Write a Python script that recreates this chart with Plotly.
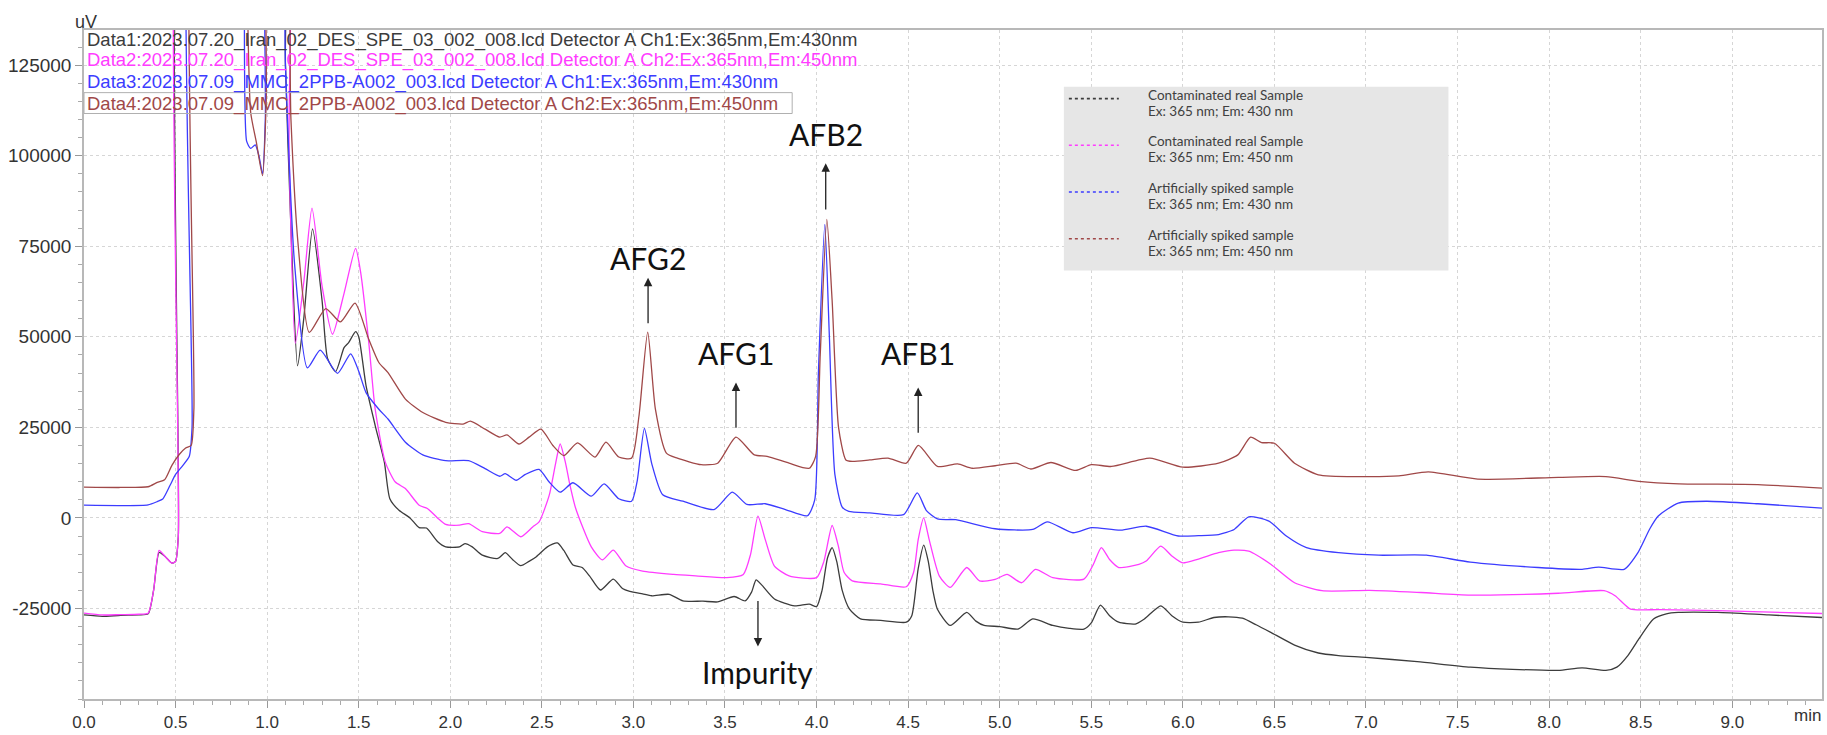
import plotly.graph_objects as go

OFF = 200000  # off-scale (detector saturated region, clipped by axis)

# ---------------- data ----------------
t_data1 = [0, 0.1, 0.2, 0.3, 0.35, 0.38, 0.41, 0.44, 0.48, 0.50, 0.515, 0.535, 0.6, 0.9, 1.07,
           1.10, 1.13, 1.166, 1.20, 1.248, 1.30, 1.33, 1.374, 1.42, 1.445, 1.483, 1.50, 1.54, 1.59,
           1.64, 1.67, 1.72, 1.78, 1.83, 1.87, 1.93, 1.975, 2.05, 2.08, 2.12, 2.175, 2.26, 2.30,
           2.34, 2.385, 2.43, 2.47, 2.53, 2.585, 2.62, 2.67, 2.72, 2.76, 2.82, 2.89, 2.94, 2.98,
           3.05, 3.10, 3.195, 3.27, 3.38, 3.46, 3.55, 3.61, 3.645, 3.67, 3.70, 3.77, 3.88, 3.96,
           4.0, 4.03, 4.06, 4.085, 4.11, 4.14, 4.18, 4.24, 4.35, 4.49, 4.52, 4.555, 4.585, 4.61,
           4.635, 4.66, 4.73, 4.82, 4.87, 4.915, 5.0, 5.10, 5.18, 5.29, 5.38, 5.46, 5.50, 5.55,
           5.60, 5.65, 5.74, 5.79, 5.88, 5.94, 6.0, 6.085, 6.17, 6.25, 6.325, 6.40, 6.48, 6.61,
           6.74, 6.85, 7.0, 7.28, 7.57, 7.8, 8.05, 8.18, 8.31, 8.37, 8.43, 8.49, 8.57, 8.64,
           8.705, 8.92, 9.2, 9.49]
v_data1 = [-26800, -27200, -26900, -26800, -26500, -20000, -9500, -10500, -12500, -12000, -5000, OFF, OFF, OFF, OFF,
           125000, 80000, 42000, 55000, 79800, 60000, 44000, 40400, 47000, 48400, 51400, 50000, 36500, 25500,
           15400, 5300, 2100, 0, -2700, -2800, -6500, -8000, -8000, -7100, -8000, -10300, -11200, -9600,
           -11500, -13200, -12000, -10700, -8000, -6900, -9000, -13000, -13700, -16000, -19900, -16900, -19500, -20300,
           -21000, -21500, -21100, -22900, -23000, -23200, -21700, -22900, -20500, -17100, -18500, -22400, -24300, -23800,
           -24500, -20000, -11000, -8200, -12000, -20000, -25200, -27900, -28300, -28800, -27000, -14000, -7500, -12000,
           -20000, -25200, -29700, -26100, -28500, -29700, -30000, -30700, -27900, -29700, -30500, -30700, -29000, -24100,
           -27000, -28800, -29300, -27900, -24300, -27000, -28800, -28800, -27500, -27300, -27700, -29500, -31600, -35100,
           -37300, -38000, -38500, -39700, -41200, -41800, -42100, -41400, -42100, -41200, -38000, -33400, -27900, -26500,
           -26100, -26100, -26800, -27500]

t_data2 = [0, 0.1, 0.2, 0.3, 0.35, 0.38, 0.41, 0.44, 0.48, 0.50, 0.515, 0.53, 0.6, 0.9, 1.08,
           1.12, 1.154, 1.20, 1.245, 1.30, 1.357, 1.42, 1.483, 1.51, 1.555, 1.59, 1.645, 1.70, 1.755,
           1.83, 1.875, 1.93, 1.975, 2.05, 2.10, 2.175, 2.27, 2.31, 2.385, 2.45, 2.485, 2.54, 2.575,
           2.60, 2.63, 2.65, 2.685, 2.77, 2.83, 2.89, 2.96, 3.05, 3.22, 3.34, 3.51, 3.60, 3.64,
           3.68, 3.72, 3.77, 3.85, 4.0, 4.04, 4.085, 4.12, 4.15, 4.195, 4.35, 4.49, 4.53, 4.555,
           4.585, 4.615, 4.67, 4.73, 4.82, 4.89, 4.975, 5.04, 5.12, 5.195, 5.29, 5.46, 5.51, 5.555,
           5.60, 5.65, 5.76, 5.80, 5.88, 5.94, 6.0, 6.195, 6.28, 6.36, 6.48, 6.61, 6.76, 7.02,
           7.3, 7.57, 8.05, 8.30, 8.36, 8.445, 8.6, 8.92, 9.49]
v_data2 = [-26300, -26800, -26700, -26600, -26300, -20000, -9000, -10500, -12500, -12000, -5000, OFF, OFF, OFF, OFF,
           100000, 48200, 65000, 85500, 64000, 50700, 62000, 74400, 68000, 48400, 30000, 15400, 9900, 8100,
           3500, 2600, 0, -1800, -2000, -1600, -3800, -4300, -2500, -5200, -2500, -1100, 6200, 15000,
           20400, 15000, 9900, 2600, -8000, -11600, -8900, -13300, -14700, -15600, -16000, -16500, -15600, -10000,
           500, -6000, -13300, -16000, -16500, -12000, -2100, -8000, -15000, -17400, -18200, -19000, -15000, -6000,
           0, -6000, -16000, -19200, -13700, -17400, -17000, -15600, -17900, -14200, -16500, -16900, -13000, -8200,
           -11500, -13700, -12800, -11900, -7800, -10500, -12400, -9600, -8900, -9200, -12800, -17900, -20100, -20000,
           -20600, -21300, -20800, -20100, -21500, -25200, -25300, -25600, -26400]

t_data3 = [0, 0.2, 0.35, 0.40, 0.43, 0.47, 0.50, 0.54, 0.575, 0.59, 0.60, 0.7, 0.86, 0.875,
           0.888, 0.91, 0.935, 0.955, 0.975, 0.99, 1.01, 1.06, 1.10, 1.15, 1.22, 1.29, 1.384, 1.456,
           1.50, 1.54, 1.61, 1.66, 1.755, 1.85, 1.975, 2.10, 2.19, 2.27, 2.30, 2.36, 2.41, 2.485,
           2.54, 2.60, 2.67, 2.77, 2.84, 2.92, 2.99, 3.02, 3.06, 3.10, 3.16, 3.27, 3.44, 3.54,
           3.62, 3.72, 3.83, 3.95, 3.99, 4.01, 4.045, 4.07, 4.10, 4.14, 4.176, 4.29, 4.475, 4.55,
           4.60, 4.66, 4.76, 4.975, 5.18, 5.26, 5.40, 5.5, 5.66, 5.80, 5.975, 6.085, 6.195, 6.28,
           6.36, 6.47, 6.565, 6.675, 6.85, 7.07, 7.33, 7.57, 7.94, 8.18, 8.27, 8.41, 8.485, 8.55,
           8.596, 8.705, 8.86, 9.14, 9.49]
v_data3 = [3500, 3400, 3600, 4500, 5200, 9000, 12000, 14500, 17000, 25000, OFF, OFF, OFF, 150000,
           104000, 102000, 103000, 100000, 95000, 110000, OFF, OFF, 125000, 70000, 41400, 46300, 39900, 45300,
           40500, 34600, 30000, 27300, 20900, 17400, 15800, 15800, 13600, 11500, 12200, 10400, 12000, 13400,
           9900, 7100, 9700, 6000, 9400, 5300, 4600, 10000, 24700, 15000, 6400, 4600, 2300, 7100,
           3700, 3900, 2300, 600, 5000, 40000, 81000, 50000, 12000, 3000, 1800, 1400, 900, 6900,
           2000, -300, -500, -3000, -3200, -1100, -4100, -2700, -3400, -2300, -5000, -4900, -4600, -3200,
           300, -900, -5000, -8200, -9600, -10300, -10300, -12200, -13700, -14200, -13600, -14200, -9600, -3000,
           500, 4100, 4600, 3900, 2700]

t_data4 = [0, 0.2, 0.35, 0.40, 0.44, 0.48, 0.52, 0.555, 0.585, 0.60, 0.614, 0.7, 0.88, 0.89,
           0.91, 0.94, 0.975, 0.995, 1.02, 1.08, 1.13, 1.17, 1.23, 1.32, 1.40, 1.48, 1.555, 1.61,
           1.66, 1.755, 1.85, 1.975, 2.07, 2.11, 2.19, 2.27, 2.31, 2.375, 2.43, 2.495, 2.56, 2.62,
           2.695, 2.79, 2.85, 2.92, 2.99, 3.03, 3.078, 3.12, 3.18, 3.24, 3.37, 3.46, 3.56, 3.66,
           3.73, 3.85, 3.96, 3.995, 4.02, 4.056, 4.085, 4.12, 4.16, 4.195, 4.29, 4.39, 4.49, 4.556,
           4.66, 4.77, 4.85, 4.975, 5.09, 5.17, 5.28, 5.415, 5.5, 5.61, 5.82, 6.0, 6.195, 6.30,
           6.37, 6.43, 6.5, 6.61, 6.74, 6.96, 7.18, 7.34, 7.61, 8.05, 8.31, 8.49, 8.71, 9.14, 9.49]
v_data4 = [8500, 8400, 8600, 9800, 10500, 14500, 17500, 19300, 20000, 30000, OFF, OFF, OFF, 150000,
           112000, 104000, 94500, 115000, OFF, OFF, 110000, 75000, 51200, 57800, 54100, 59300, 49300, 42900,
           40100, 32800, 29100, 26400, 25900, 26700, 24500, 22300, 22900, 20400, 22300, 24500, 20000, 17200,
           20700, 16800, 20900, 16800, 16500, 28000, 51300, 30000, 17900, 16500, 14700, 15100, 22300, 17400,
           17000, 15100, 13700, 17000, 45000, 82400, 60000, 25000, 16000, 15600, 16000, 16500, 15100, 20000,
           14200, 14900, 13700, 14400, 15100, 13500, 15300, 13100, 14700, 14200, 16500, 14000, 15100, 17400,
           22300, 20800, 20600, 15100, 11900, 11400, 11600, 12700, 10700, 11200, 11400, 10100, 9400, 9200, 8200]

trace_names = [
    "Data1:2023.07.20_Iran_02_DES_SPE_03_002_008.lcd Detector A Ch1:Ex:365nm,Em:430nm",
    "Data2:2023.07.20_Iran_02_DES_SPE_03_002_008.lcd Detector A Ch2:Ex:365nm,Em:450nm",
    "Data3:2023.07.09_MMC_2PPB-A002_003.lcd Detector A Ch1:Ex:365nm,Em:430nm",
    "Data4:2023.07.09_MMC_2PPB-A002_003.lcd Detector A Ch2:Ex:365nm,Em:450nm",
]
legend_labels = [
    ("Contaminated real Sample", "Ex: 365 nm; Em: 430 nm"),
    ("Contaminated real Sample", "Ex: 365 nm; Em: 450 nm"),
    ("Artificially spiked sample", "Ex: 365 nm; Em: 430 nm"),
    ("Artificially spiked sample", "Ex: 365 nm; Em: 450 nm"),
]
colors = ["#3c3c3c", "#ff3cff", "#3c3cff", "#a04848"]

# peak labels: (text, arrow x [min], arrow tail uV, arrow head uV, label uV)
peak_labels = [
    ("AFG2", 3.08, 53300, 66300, 71800),
    ("AFG1", 3.56, 24500, 37400, 45400),
    ("AFB2", 4.05, 84700, 97900, 105900),
    ("AFB1", 4.555, 23100, 36000, 45400),
    ("Impurity", 3.68, -22500, -35500, -42600),
]

x_ticks = [0.5 * i for i in range(19)]
x_ticktext = ["%.1f" % v for v in x_ticks]
y_ticks = [-25000, 0, 25000, 50000, 75000, 100000, 125000]
y_ticktext = [str(v) for v in y_ticks]

# ---------------- figure ----------------
W, H = 1827, 735
L, R, T, B = 84, 3, 30, 32
PW, PH = W - L - R, H - T - B


def px(xp):
    return (xp - L) / PW


def py(yp):
    return (H - B - yp) / PH


fig = go.Figure()
series = [(t_data1, v_data1), (t_data2, v_data2), (t_data3, v_data3), (t_data4, v_data4)]
for (tt, vv), c, nm in zip(series, colors, trace_names):
    fig.add_trace(go.Scatter(x=tt, y=vv, mode="lines", name=nm,
                             line=dict(color=c, width=1.3, shape="spline", smoothing=0.6),
                             showlegend=False, hoverinfo="skip"))

ann = []
shapes = []

# top-left data legend (text lines)
legend_y = [40, 60, 82, 104]
for nm, c, yy in zip(trace_names, colors, legend_y):
    ann.append(dict(xref="paper", yref="paper", x=px(85), y=py(yy), text=nm, showarrow=False,
                    xanchor="left", yanchor="middle",
                    font=dict(family="Liberation Sans, Arial", size=18.5, color=c)))
shapes.append(dict(type="rect", xref="paper", yref="paper", x0=px(84), x1=px(793), y0=py(114), y1=py(93),
                   line=dict(color="#b0b0b0", width=1), fillcolor="rgba(0,0,0,0)"))

# right legend box
shapes.append(dict(type="rect", xref="paper", yref="paper", x0=px(1065), x1=px(1450), y0=py(272), y1=py(87),
                   line=dict(width=0), fillcolor="#e6e6e6", layer="above"))
leg_rows = [99, 146, 193, 240]
for (l1, l2), c, yy in zip(legend_labels, colors, leg_rows):
    shapes.append(dict(type="line", xref="paper", yref="paper", x0=px(1070), x1=px(1120), y0=py(yy), y1=py(yy),
                       line=dict(color=c, width=1.6, dash="dot"), layer="above"))
    for txt, dy in ((l1, -4), (l2, 12)):
        ann.append(dict(xref="paper", yref="paper", x=px(1147), y=py(yy + dy), text=txt,
                        showarrow=False, xanchor="left", yanchor="middle", align="left",
                        font=dict(family="Lato, Carlito, sans-serif", size=13.5, color="#404040")))

# peak labels with arrows
for txt, xa, tail, head, ly in peak_labels:
    ann.append(dict(xref="x", yref="y", x=xa, y=head, ax=xa, ay=tail, axref="x", ayref="y",
                    text="", showarrow=True, arrowhead=2, arrowsize=1.3, arrowwidth=1.3, arrowcolor="#222"))
    ann.append(dict(xref="x", yref="y", x=xa, y=ly, text=txt, showarrow=False,
                    xanchor="center", yanchor="middle",
                    font=dict(family="Lato, Carlito, sans-serif", size=30, color="#111")))

# axis unit labels
ann.append(dict(xref="paper", yref="paper", x=px(86), y=py(22), text="uV", showarrow=False,
                xanchor="center", yanchor="middle",
                font=dict(family="Liberation Sans, Arial", size=18, color="#333")))
ann.append(dict(xref="paper", yref="paper", x=px(1809), y=py(720), text="min", showarrow=False,
                xanchor="center", yanchor="middle",
                font=dict(family="Liberation Sans, Arial", size=17, color="#333")))

fig.update_layout(
    width=W, height=H,
    margin=dict(l=L, r=R, t=T, b=B, pad=0),
    paper_bgcolor="white", plot_bgcolor="white",
    annotations=ann, shapes=shapes,
    xaxis=dict(range=[0, 9.49], tickvals=x_ticks, ticktext=x_ticktext, ticks="outside", ticklen=7,
               tickcolor="#999", showgrid=True, gridcolor="#d6d6d6", griddash="dot", gridwidth=1,
               showline=True, linecolor="#b8b8b8", linewidth=1.5, mirror=True, zeroline=False,
               tickfont=dict(family="Liberation Sans, Arial", size=17, color="#333"),
               minor=dict(dtick=0.1, ticks="outside", ticklen=4, tickcolor="#aaa", showgrid=False)),
    yaxis=dict(range=[-50000, 134700], tickvals=y_ticks, ticktext=y_ticktext, ticks="outside", ticklen=7,
               tickcolor="#999", showgrid=True, gridcolor="#d6d6d6", griddash="dot", gridwidth=1,
               showline=True, linecolor="#b8b8b8", linewidth=1.5, mirror=True, zeroline=False,
               tickfont=dict(family="Liberation Sans, Arial", size=19, color="#333"),
               minor=dict(dtick=5000, ticks="outside", ticklen=4, tickcolor="#aaa", showgrid=False)),
)

fig.write_html("out.html")
